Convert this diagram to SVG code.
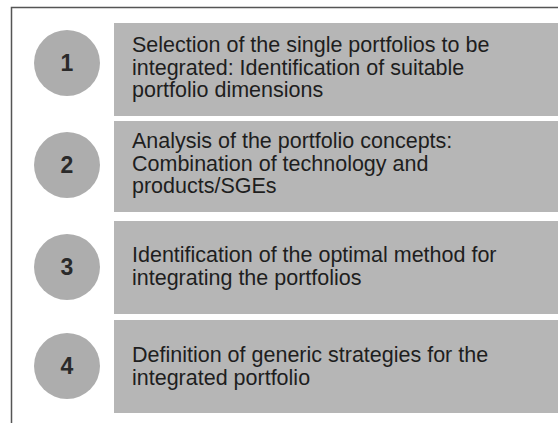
<svg xmlns="http://www.w3.org/2000/svg" width="558" height="423" viewBox="0 0 558 423">
<style>
.box{fill:#b6b6b6}
.circ{fill:#adadad}
.t{font-family:"Liberation Sans",Arial,sans-serif;font-size:21.5px;fill:#1e1e1e}
.n{font-family:"Liberation Sans",Arial,sans-serif;font-size:23px;font-weight:bold;fill:#2a2a2a;text-anchor:middle}
.frame{stroke:#555;stroke-width:1.5;fill:none}
</style>
<rect width="558" height="423" fill="#ffffff"/>
<path class="frame" d="M11.5,423 V7.5 H558"/>
<g id="step1">
<rect class="box" x="114" y="23" width="444" height="93"/>
<circle class="circ" cx="67" cy="63" r="33"/>
<text class="n" x="67" y="71">1</text>
<text class="t" x="132" y="52">Selection of the single portfolios to be</text>
<text class="t" x="132" y="75">integrated: Identification of suitable</text>
<text class="t" x="132" y="97">portfolio dimensions</text>
</g>
<g id="step2">
<rect class="box" x="114" y="121" width="444" height="91"/>
<circle class="circ" cx="67" cy="165" r="33"/>
<text class="n" x="67" y="173">2</text>
<text class="t" x="132" y="148">Analysis of the portfolio concepts:</text>
<text class="t" x="132" y="171">Combination of technology and</text>
<text class="t" x="132" y="193">products/SGEs</text>
</g>
<g id="step3">
<rect class="box" x="114" y="221" width="444" height="93"/>
<circle class="circ" cx="67" cy="267" r="33"/>
<text class="n" x="67" y="275">3</text>
<text class="t" x="132" y="262">Identification of the optimal method for</text>
<text class="t" x="132" y="285">integrating the portfolios</text>
</g>
<g id="step4">
<rect class="box" x="114" y="320" width="444" height="93"/>
<circle class="circ" cx="67" cy="366" r="33"/>
<text class="n" x="67" y="374">4</text>
<text class="t" x="132" y="362">Definition of generic strategies for the</text>
<text class="t" x="132" y="385">integrated portfolio</text>
</g>
<g id="connectors"></g>
</svg>
